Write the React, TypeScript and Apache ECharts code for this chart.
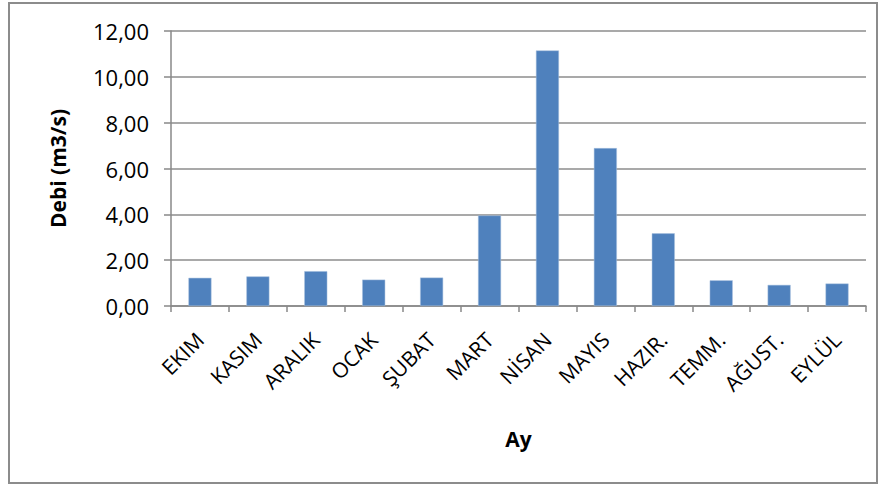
import React, { useEffect, useRef } from "react";
import * as echarts from "echarts";

const categories = ["EKIM", "KASIM", "ARALIK", "OCAK", "ŞUBAT", "MART", "NİSAN", "MAYIS", "HAZIR.", "TEMM.", "AĞUST.", "EYLÜL"];
const debi = [1.23, 1.29, 1.52, 1.15, 1.24, 3.95, 11.15, 6.89, 3.17, 1.12, 0.92, 0.98];
const yTitle = "Debi (m3/s)";
const xTitle = "Ay";

const FONT = "'Open Sans', 'Noto Sans', sans-serif";

export default function App() {
  const ref = useRef<HTMLDivElement>(null);
  useEffect(() => {
    if (!ref.current) return;
    const chart = echarts.init(ref.current, undefined, { renderer: "svg" });
    chart.setOption({
      animation: false,
      backgroundColor: "#ffffff",
      graphic: [
        {
          type: "rect",
          shape: { x: 9, y: 3, width: 868, height: 480 },
          style: { fill: "none", stroke: "#8c8c8c", lineWidth: 2 },
          silent: true,
        },
      ],
      grid: { left: 171, right: 15, top: 31, bottom: 181, containLabel: false },
      xAxis: {
        type: "category",
        data: categories,
        name: xTitle,
        nameLocation: "middle",
        nameGap: 122,
        nameTextStyle: { fontFamily: FONT, fontSize: 21, fontWeight: "bold", color: "#000" },
        axisLine: { lineStyle: { color: "#888", width: 1.5 } },
        axisTick: { show: true, alignWithLabel: false, length: 6, lineStyle: { color: "#888", width: 1.5 } },
        axisLabel: {
          rotate: 45,
          margin: 30,
          interval: 0,
          fontFamily: FONT,
          fontSize: 21,
          color: "#000",
        },
      },
      yAxis: {
        type: "value",
        min: 0,
        max: 12,
        interval: 2,
        name: yTitle,
        nameLocation: "middle",
        nameGap: 103,
        nameTextStyle: { fontFamily: FONT, fontSize: 21, fontWeight: "bold", color: "#000" },
        axisLine: { show: true, lineStyle: { color: "#888", width: 1.5 } },
        axisTick: { show: true, length: 7, lineStyle: { color: "#888", width: 1.5 } },
        splitLine: { show: true, lineStyle: { color: "#8c8c8c", width: 1.5 } },
        axisLabel: {
          margin: 22,
          fontFamily: FONT,
          fontSize: 22,
          color: "#000",
          formatter: (v: number) => v.toFixed(2).replace(".", ","),
        },
      },
      series: [
        {
          type: "bar",
          data: debi,
          barWidth: 23,
          itemStyle: { color: "#4f81bd", borderColor: "#a9c0de", borderWidth: 0.5 },
        },
      ],
    });
    return () => chart.dispose();
  }, []);
  return (
    <div
      ref={ref}
      style={{ position: "fixed", left: 0, top: 0, width: 881, height: 487 }}
    />
  );
}
